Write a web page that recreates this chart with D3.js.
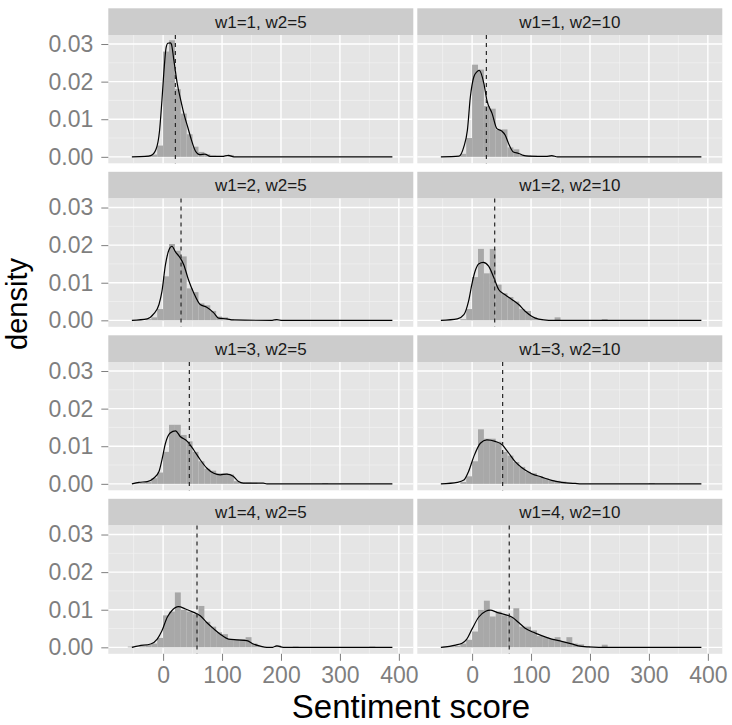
<!DOCTYPE html>
<html>
<head>
<meta charset="utf-8">
<script src="https://cdn.jsdelivr.net/npm/d3@7"></script>
<style>
body{margin:0;background:#fff;}
text{font-family:"Liberation Sans",Arial,Helvetica,sans-serif;}
</style>
</head>
<body>
<div id="chart"></div>
<script>
// facets
const facetLabels=["w1=1, w2=5","w1=1, w2=10","w1=2, w2=5","w1=2, w2=10","w1=3, w2=5","w1=3, w2=10","w1=4, w2=5","w1=4, w2=10"];
const meanScore=[20.8,24.2,30.4,38.3,44.5,51.8,57.5,63];
const xTicks=[0,100,200,300,400];
const xMinor=[-50,50,150,250,350];
const yTicks=[0,0.01,0.02,0.03];
const yMinor=[0.005,0.015,0.025];

// histogram bins: [bin start, density], bin width 10
const hist1=[[-30,0.0003],[-20,0.0006],[-10,0.003],[0,0.028],[10,0.031],[20,0.018],[30,0.0115],[40,0.006],[50,0.0027],[60,0.0013],[70,0.0007],[80,0.0003],[110,0.0005]];
const hist2=[[-20,0.0008],[-10,0.005],[0,0.0245],[10,0.0232],[20,0.0135],[30,0.0128],[40,0.0072],[50,0.0073],[60,0.0025],[70,0.002],[80,0.0005],[90,0.0004],[100,0.0003],[120,0.0002],[130,0.0003]];
const hist3=[[-30,0.0003],[-20,0.0008],[-10,0.003],[0,0.0117],[10,0.0203],[20,0.0185],[30,0.017],[40,0.0085],[50,0.0075],[60,0.0045],[70,0.004],[80,0.0025],[90,0.001],[100,0.0008],[110,0.0003],[190,0.0002]];
const hist4=[[-20,0.0003],[-10,0.003],[0,0.0115],[10,0.019],[20,0.0125],[30,0.019],[40,0.0095],[50,0.0072],[60,0.0062],[70,0.005],[80,0.003],[90,0.0025],[100,0.0008],[110,0.0003],[140,0.0008],[220,0.0003]];
const hist5=[[-50,0.0002],[-40,0.0003],[-30,0.0005],[-20,0.0015],[-10,0.003],[0,0.0085],[10,0.0157],[20,0.0157],[30,0.013],[40,0.0113],[50,0.0085],[60,0.006],[70,0.004],[80,0.0035],[90,0.0028],[100,0.0028],[110,0.0025],[120,0.0007],[130,0.0004],[140,0.0004],[150,0.0003],[270,0.0002]];
const hist6=[[-20,0.0005],[-10,0.002],[0,0.006],[10,0.0145],[20,0.012],[30,0.012],[40,0.0112],[50,0.0085],[60,0.0075],[70,0.0058],[80,0.0045],[90,0.0032],[100,0.0028],[110,0.002],[120,0.0015],[130,0.001],[140,0.0008],[150,0.0006],[160,0.0003],[300,0.0002]];
const hist7=[[-60,0.0002],[-40,0.0003],[-30,0.0006],[-20,0.001],[-10,0.0025],[0,0.0085],[10,0.0095],[20,0.0146],[30,0.01],[40,0.0095],[50,0.0088],[60,0.011],[70,0.0068],[80,0.0055],[90,0.004],[100,0.0035],[110,0.0022],[120,0.0022],[130,0.0022],[140,0.0027],[150,0.001],[160,0.0003],[190,0.0005],[220,0.0002],[350,0.0002]];
const hist8=[[-50,0.0002],[-40,0.0003],[-30,0.0004],[-20,0.001],[-10,0.002],[0,0.0042],[10,0.01],[20,0.0124],[30,0.0082],[40,0.0095],[50,0.0085],[60,0.008],[70,0.0104],[80,0.0055],[90,0.0055],[100,0.0045],[110,0.003],[120,0.0027],[130,0.0022],[140,0.0027],[150,0.0015],[160,0.0027],[170,0.001],[180,0.0008],[190,0.0003],[220,0.0007]];

// density curves: [score, density]
const dens1=[[-53,0],[-30,0.0001],[-20,0.0004],[-12,0.002],[-6,0.007],[-2,0.015],[2,0.024],[5,0.029],[8,0.0302],[12,0.0303],[14,0.03],[18,0.026],[24,0.0195],[30,0.015],[36,0.011],[42,0.0078],[48,0.0045],[55,0.0015],[62,0.0006],[71,0.0007],[80,0.0001],[100,0.0001],[111,0.0004],[120,0],[389,0]];
const dens2=[[-53,0],[-22,0.0002],[-14,0.0027],[-8,0.0071],[-3,0.0159],[3,0.0213],[8,0.0226],[12,0.023],[20,0.0195],[25,0.0151],[34,0.0115],[42,0.0075],[50,0.0069],[56,0.0058],[62,0.0035],[70,0.0013],[79,0.0009],[87,0.0004],[96,0.0002],[125,0.0001],[135,0.0003],[145,0],[389,0]];
const dens3=[[-53,0],[-27,0.0004],[-16,0.0017],[-7,0.0042],[-2,0.0077],[4,0.0148],[10,0.0188],[15,0.0197],[21,0.0182],[29,0.0166],[35,0.0148],[43,0.0108],[52,0.0073],[63,0.0042],[74,0.0035],[86,0.002],[94,0.0006],[108,0.0004],[119,0.0001],[185,0],[193,0.0002],[200,0],[389,0]];
const dens4=[[-53,0],[-25,0.0004],[-14,0.0015],[-6,0.0051],[0,0.0099],[6,0.0135],[11,0.015],[19,0.0154],[28,0.0144],[37,0.0113],[45,0.0082],[56,0.0068],[68,0.0055],[79,0.0042],[90,0.0024],[101,0.0011],[113,0.0003],[130,0],[389,0]];
const dens5=[[-53,0],[-41,0.0004],[-27,0.0006],[-16,0.0015],[-7,0.0033],[-2,0.0064],[4,0.0108],[12,0.0135],[21,0.0141],[29,0.0126],[41,0.0113],[52,0.009],[63,0.0064],[74,0.0042],[86,0.0028],[97,0.0024],[108,0.0026],[119,0.002],[128,0.0006],[136,0.0002],[170,0.0002],[176,0],[389,0]];
const dens6=[[-53,0],[-25,0.0004],[-14,0.001],[-6,0.0033],[3,0.0073],[14,0.0108],[25,0.0117],[39,0.0113],[51,0.0104],[62,0.0082],[73,0.0059],[85,0.0042],[101,0.0027],[118,0.0018],[135,0.0009],[152,0.0004],[175,0.0001],[186,0],[389,0]];
const dens7=[[-53,0],[-41,0.0004],[-21,0.0009],[-10,0.0022],[-2,0.0044],[7,0.008],[15,0.0098],[26,0.0108],[38,0.0102],[52,0.0093],[63,0.0084],[74,0.0066],[86,0.0049],[97,0.0035],[111,0.0022],[125,0.002],[142,0.0018],[153,0.0009],[165,0.0003],[176,0],[186,0],[193,0.0004],[204,0],[389,0]];
const dens8=[[-53,0],[-28,0.0006],[-17,0.0011],[-9,0.0022],[0,0.0049],[11,0.008],[23,0.0096],[31,0.0099],[42,0.0093],[56,0.0087],[68,0.008],[79,0.0066],[90,0.0051],[104,0.004],[118,0.0031],[135,0.0022],[152,0.0016],[169,0.0009],[180,0.0004],[197,0.0001],[215,0],[389,0]];

const histAll=[hist1,hist2,hist3,hist4,hist5,hist6,hist7,hist8];
const densAll=[dens1,dens2,dens3,dens4,dens5,dens6,dens7,dens8];
const binWidth=10;

const W=732,H=725;
const colLeft=[108.3,417.3], pw=305, stripH=26.7, ph=128.3, rowTop0=8.3, rowStep=163.5;

const svg=d3.select("#chart").append("svg").attr("width",W).attr("height",H);

const x=d3.scaleLinear().domain([-93,424.5]).range([0,pw]);
const y=d3.scaleLinear().domain([-0.00172,0.0324]).range([ph,0]);

const line=d3.line().x(d=>x(d[0])).y(d=>y(d[1])).curve(d3.curveMonotoneX);

facetLabels.forEach((lab,i)=>{
    const c=i%2, r=Math.floor(i/2);
    const g=svg.append("g").attr("transform",`translate(${colLeft[c]},${rowTop0+r*rowStep})`);
    g.append("rect").attr("width",pw).attr("height",stripH).attr("fill","#cccccc");
    g.append("text").attr("x",pw/2).attr("y",stripH/2+6).attr("text-anchor","middle")
        .attr("font-size",17).attr("fill","#1a1a1a").text(lab);

    const p=g.append("g").attr("transform",`translate(0,${stripH})`);
    p.append("rect").attr("width",pw).attr("height",ph).attr("fill","#e5e5e5");
    p.selectAll(".vminor").data(xMinor).enter().append("line")
        .attr("x1",d=>x(d)).attr("x2",d=>x(d)).attr("y1",0).attr("y2",ph)
        .attr("stroke","#f2f2f2").attr("stroke-width",0.7);
    p.selectAll(".hminor").data(yMinor).enter().append("line")
        .attr("y1",d=>y(d)).attr("y2",d=>y(d)).attr("x1",0).attr("x2",pw)
        .attr("stroke","#f2f2f2").attr("stroke-width",0.7);
    p.selectAll(".vmajor").data(xTicks).enter().append("line")
        .attr("x1",d=>x(d)).attr("x2",d=>x(d)).attr("y1",0).attr("y2",ph)
        .attr("stroke","#fff").attr("stroke-width",1.4);
    p.selectAll(".hmajor").data(yTicks).enter().append("line")
        .attr("y1",d=>y(d)).attr("y2",d=>y(d)).attr("x1",0).attr("x2",pw)
        .attr("stroke","#fff").attr("stroke-width",1.4);

    p.selectAll(".bar").data(histAll[i]).enter().append("rect")
        .attr("x",d=>x(d[0])).attr("width",d=>x(d[0]+binWidth)-x(d[0]))
        .attr("y",d=>y(d[1])).attr("height",d=>y(0)-y(d[1]))
        .attr("fill","#a8a8a8");

    p.append("path").datum(densAll[i]).attr("d",line)
        .attr("fill","none").attr("stroke","#000").attr("stroke-width",1.2);

    p.append("line").attr("x1",x(meanScore[i])).attr("x2",x(meanScore[i]))
        .attr("y1",0).attr("y2",ph).attr("stroke","#262626").attr("stroke-width",1.2)
        .attr("stroke-dasharray","4,4");

    if(c===0){
        const ax=p.append("g").call(d3.axisLeft(y).tickValues(yTicks).tickFormat(d3.format(".2f")).tickSize(7).tickPadding(8));
        ax.select(".domain").remove();
        ax.selectAll("line").attr("stroke","#7f7f7f");
        ax.selectAll("text").attr("fill","#7f7f7f").attr("font-size",23).attr("font-family",null);
    }
    if(r===3){
        const ax=p.append("g").attr("transform",`translate(0,${ph})`)
            .call(d3.axisBottom(x).tickValues(xTicks).tickSize(7).tickPadding(6));
        ax.select(".domain").remove();
        ax.selectAll("line").attr("stroke","#7f7f7f");
        ax.selectAll("text").attr("fill","#7f7f7f").attr("font-size",23).attr("font-family",null);
    }
});

svg.append("text").attr("transform","translate(27,304) rotate(-90)").attr("text-anchor","middle")
    .attr("font-size",29).attr("fill","#000").text("density");
svg.append("text").attr("x",411).attr("y",718).attr("text-anchor","middle")
    .attr("font-size",33).attr("fill","#000").text("Sentiment score");
</script>
</body>
</html>
